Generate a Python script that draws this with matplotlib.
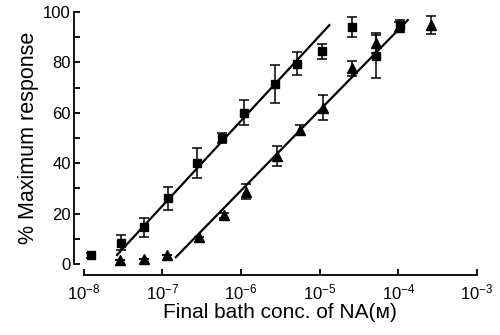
import matplotlib.pyplot as plt
import numpy as np

plt.rcParams['font.family'] = ['Liberation Sans', 'DejaVu Sans']
plt.rcParams['mathtext.default'] = 'regular'

# squares
sq_conc = [1.25e-8, 3e-8, 5.9e-8, 1.17e-7, 2.8e-7, 5.8e-7, 1.1e-6, 2.7e-6,
           5.2e-6, 1.07e-5, 2.6e-5, 5.25e-5, 1.05e-4]
sq_resp = [3.5, 8.5, 14.5, 26, 40, 50, 60, 71.5, 79.5, 84.5, 94.2, 82.5, 95]
sq_err = [1, 3, 3.6, 4.7, 6, 2, 5, 7.5, 4.6, 3, 4, 8.5, 2]

# triangles
tri_conc = [2.95e-8, 5.9e-8, 1.16e-7, 2.95e-7, 6.1e-7, 1.15e-6, 2.9e-6,
            5.7e-6, 1.1e-5, 2.6e-5, 5.25e-5, 1.02e-4, 2.6e-4]
tri_resp = [1.6, 1.9, 3.6, 10.6, 19.4, 28.7, 43, 53.2, 62, 77.7, 87.6, 94.2, 94.8]
tri_err = [0, 0, 0, 0, 1, 3, 4, 2, 5, 3, 4, 2, 3.5]

# fitted lines (end points)
fit_sq_x = [2.67e-8, 1.33e-5]
fit_sq_y = [3.6, 94.8]
fit_tri_x = [1.49e-7, 1.32e-4]
fit_tri_y = [2.7, 96.8]

xticks = [1e-8, 1e-7, 1e-6, 1e-5, 1e-4, 1e-3]
xticklabels = [r'$10^{-8}$', r'$10^{-7}$', r'$10^{-6}$', r'$10^{-5}$',
               r'$10^{-4}$', r'$10^{-3}$']

fig = plt.figure(figsize=(5, 3.35), dpi=100)
ax = fig.add_axes([0.167, 0.212, 0.787, 0.752])

ax.plot(fit_sq_x, fit_sq_y, color='black', lw=1.6)
ax.plot(fit_tri_x, fit_tri_y, color='black', lw=1.6)

ax.errorbar(sq_conc, sq_resp, yerr=sq_err, fmt='s', color='black',
            ms=5.5, capsize=3.5, elinewidth=1.1, capthick=1.1, clip_on=False)
ax.errorbar(tri_conc, tri_resp, yerr=tri_err, fmt='^', color='black',
            ms=7, capsize=3.5, elinewidth=1.1, capthick=1.1, clip_on=False)

ax.set_xscale('log')
ax.set_xlim(1e-8, 1e-3)
ax.set_ylim(0, 100)

for s in ['top', 'right']:
    ax.spines[s].set_visible(False)
ax.spines['bottom'].set_position(('outward', 8))
ax.spines['left'].set_position(('outward', 7))
ax.spines['bottom'].set_linewidth(1.3)
ax.spines['left'].set_linewidth(1.3)

ax.set_xticks(xticks)
ax.set_xticklabels(xticklabels)
ax.xaxis.set_minor_locator(plt.NullLocator())
ax.set_yticks(np.arange(0, 101, 20))
ax.set_yticks(np.arange(10, 100, 20), minor=True)
ax.tick_params(axis='both', which='both', direction='in', length=4,
               width=1.3, labelsize=12)
ax.tick_params(axis='x', pad=5)
ax.tick_params(axis='y', pad=2)

ax.set_xlabel('Final bath conc. of NA(ᴍ)', fontsize=15, labelpad=1)
ax.set_ylabel('% Maximum response', fontsize=15.5, labelpad=3)

fig.savefig('out.png', dpi=100)
